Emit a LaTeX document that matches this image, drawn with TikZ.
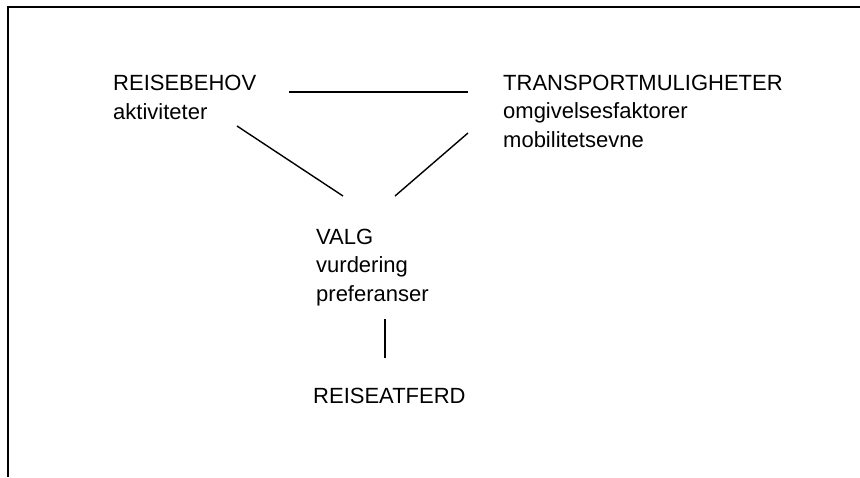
\documentclass[tikz,border=0pt]{standalone}
\usepackage{fontspec}
\setmainfont{Liberation Sans}
\begin{document}
\begin{tikzpicture}[x=1pt, y=-1pt]
        \tikzstyle{every node}=[anchor=base west, inner sep=0pt, align=left, font=\fontsize{22}{28.3}\selectfont]
        \tikzstyle{link}=[line width=1.4pt]
        \useasboundingbox (0,0) rectangle (860,477);
        \draw [line width=2pt] (860,7) -- (8,7) -- (8,477);
        \node (behov) at (113,119) {REISEBEHOV\\aktiviteter};
        \node (mulig) at (503,147) {TRANSPORTMULIGHETER\\omgivelsesfaktorer\\mobilitetsevne};
        \node (valg) at (316,301) {VALG\\vurdering\\preferanser};
        \node (atferd) at (313,403) {REISEATFERD};
        \coordinate (behovE) at (289,92);
        \coordinate (muligW) at (468,92);
        \coordinate (behovS) at (237,126);
        \coordinate (muligS) at (468,133);
        \coordinate (valgL) at (343,196);
        \coordinate (valgR) at (395,196);
        \coordinate (valgS) at (385,319);
        \coordinate (atferdN) at (385,358);
        \draw [link] (behovE) -- (muligW);
        \draw [link] (behovS) -- (valgL);
        \draw [link] (muligS) -- (valgR);
        \draw [link] (valgS) -- (atferdN);
\end{tikzpicture}
\end{document}
